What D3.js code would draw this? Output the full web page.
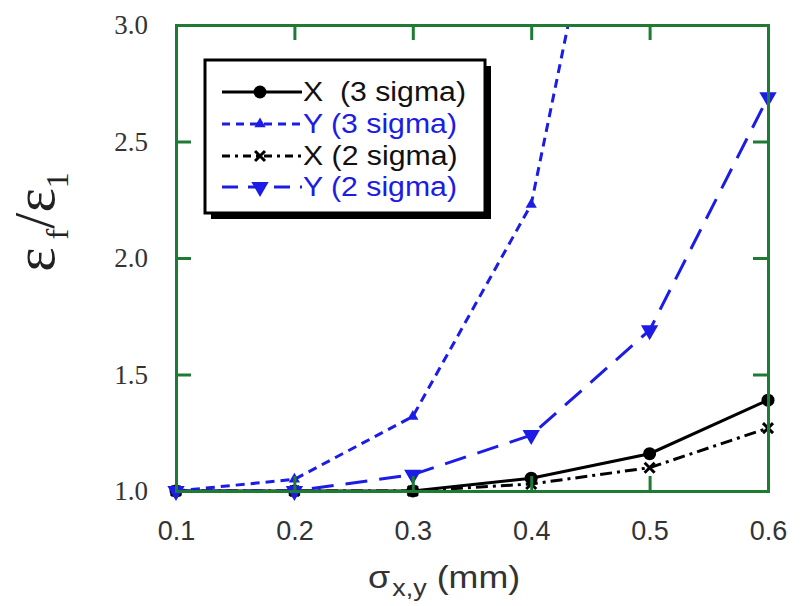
<!DOCTYPE html>
<html>
<head>
<meta charset="utf-8">
<script src="https://cdn.jsdelivr.net/npm/d3@7"></script>
<style>
  body { margin: 0; background: #fff; }
  svg { display: block; }
</style>
</head>
<body>
<div id="chart"></div>
<script>
// sigma values (mm)
var sigmas = [0.1, 0.2, 0.3, 0.4, 0.5, 0.6];
// emittance ratio ef/ei per series
var x3Values = [1.0, 1.0, 1.0, 1.055, 1.16, 1.39];
var y3Values = [1.0, 1.05, 1.32, 2.23, 4.7];
var x2Values = [1.0, 1.0, 1.0, 1.03, 1.10, 1.27];
var y2Values = [1.0, 1.0, 1.07, 1.24, 1.69, 2.69];
var seriesNames = ["X  (3 sigma)", "Y (3 sigma)", "X (2 sigma)", "Y (2 sigma)"];
var xTicks = [0.1, 0.2, 0.3, 0.4, 0.5, 0.6];
var yTicks = [1.0, 1.5, 2.0, 2.5, 3.0];

var width = 802, height = 606;
var margin = { top: 25, right: 34, bottom: 115, left: 176 };
var innerW = width - margin.left - margin.right,
    innerH = height - margin.top - margin.bottom;

var green = "#1e7b34", blue = "#1c1ce6";

var svg = d3.select("#chart").append("svg")
    .attr("width", width)
    .attr("height", height);

var g = svg.append("g")
    .attr("transform", "translate(" + margin.left + "," + margin.top + ")");

var x = d3.scaleLinear().domain([0.1, 0.6]).range([0, innerW]);
var y = d3.scaleLinear().domain([1.0, 3.0]).range([innerH, 0]);

// clip so steep curve leaves at the top
svg.append("defs").append("clipPath").attr("id", "plot-clip")
    .append("rect").attr("x", -10).attr("y", 0)
    .attr("width", innerW + 20).attr("height", innerH + 10);

// series definitions
var series = [
    { name: seriesNames[0], values: x3Values, color: "#000", dash: null, legDash: null, marker: "circle", textColor: "#111" },
    { name: seriesNames[1], values: y3Values, color: blue, dash: "9,6", legDash: "8,6", marker: "triUp", textColor: blue },
    { name: seriesNames[2], values: x2Values, color: "#000", dash: "12,5,3,5", legDash: "8,5,3,5", marker: "cross", textColor: "#111" },
    { name: seriesNames[3], values: y2Values, color: blue, dash: "22,12", legDash: "16,10", marker: "triDown", textColor: blue }
];

var line = d3.line()
    .x(function(d) { return x(d[0]); })
    .y(function(d) { return y(d[1]); });

function drawMarker(sel, type, color) {
    if (type === "circle") {
        sel.append("circle").attr("r", 6.5).attr("fill", color);
    } else if (type === "triUp") {
        sel.append("path").attr("d", d3.symbol().type(d3.symbolTriangle).size(55)).attr("fill", color);
    } else if (type === "triDown") {
        sel.append("path").attr("d", d3.symbol().type(d3.symbolTriangle).size(130))
            .attr("transform", "rotate(180)").attr("fill", color);
    } else if (type === "cross") {
        sel.append("path").attr("d", "M-5,-5L5,5M-5,5L5,-5")
            .attr("stroke", color).attr("stroke-width", 3);
    }
}

var plot = g.append("g").attr("clip-path", "url(#plot-clip)");

series.forEach(function(s) {
    var pts = s.values.map(function(v, i) { return [sigmas[i], v]; });
    plot.append("path")
        .datum(pts)
        .attr("d", line)
        .attr("fill", "none")
        .attr("stroke", s.color)
        .attr("stroke-width", 3)
        .attr("stroke-dasharray", s.dash);
    pts.filter(function(d) { return d[1] <= 3.0; }).forEach(function(d) {
        var m = plot.append("g")
            .attr("transform", "translate(" + x(d[0]) + "," + y(d[1]) + ")");
        drawMarker(m, s.marker, s.color);
    });
});

// frame axes, ticks inside on all four sides
var tickLen = 15;
var axisB = d3.axisBottom(x).tickValues(xTicks).tickSize(-tickLen).tickFormat(d3.format(".1f")).tickPadding(30);
var axisT = d3.axisTop(x).tickValues(xTicks).tickSize(-tickLen).tickFormat("");
var axisL = d3.axisLeft(y).tickValues(yTicks).tickSize(-tickLen).tickFormat(d3.format(".1f")).tickPadding(28);
var axisR = d3.axisRight(y).tickValues(yTicks).tickSize(-tickLen).tickFormat("");

function styleAxis(sel) {
    sel.selectAll("path.domain").attr("stroke", green).attr("stroke-width", 3);
    sel.selectAll(".tick line").attr("stroke", green).attr("stroke-width", 3);
}

var gB = g.append("g").attr("transform", "translate(0," + innerH + ")").call(axisB).call(styleAxis);
gB.selectAll("text").attr("font-family", "Liberation Sans, Arial, sans-serif")
    .attr("font-size", 27).attr("fill", "#333");
var gT = g.append("g").call(axisT).call(styleAxis);
var gL = g.append("g").call(axisL).call(styleAxis);
gL.selectAll("text").attr("font-family", "Liberation Serif, Times New Roman, serif")
    .attr("font-size", 27).attr("fill", "#333");
var gR = g.append("g").attr("transform", "translate(" + innerW + ",0)").call(axisR).call(styleAxis);
// drop the ticks on the axis ends, as in the picture
[gB, gT].forEach(function(a) {
    a.selectAll(".tick line").filter(function(d) { return d === 0.1 || d === 0.6; }).remove();
});
[gL, gR].forEach(function(a) {
    a.selectAll(".tick line").filter(function(d) { return d === 1.0 || d === 3.0; }).remove();
});

// x axis title
var xt = svg.append("text")
    .attr("transform", "translate(368,588) scale(1.12,1)")
    .attr("font-family", "Liberation Sans, Arial, sans-serif")
    .attr("font-size", 32).attr("fill", "#333");
xt.append("tspan").text("σ");
xt.append("tspan").attr("font-size", 24).attr("dy", 8).attr("dx", 2).text("x,y");
xt.append("tspan").attr("dy", -8).text(" (mm)");

// y axis title
var yt = svg.append("text")
    .attr("transform", "translate(54,222) rotate(-90)")
    .attr("text-anchor", "middle")
    .attr("font-family", "Liberation Serif, Times New Roman, serif")
    .attr("font-size", 58).attr("fill", "#222");
yt.append("tspan").text("ε");
yt.append("tspan").attr("font-size", 32).attr("dy", 14).text(" f");
yt.append("tspan").attr("dy", -14).text("/ε");
yt.append("tspan").attr("font-size", 32).attr("dy", 14).text("1");

// legend
var lgX = 205, lgY = 60, lgW = 280, lgH = 153;
svg.append("rect").attr("x", lgX + 6).attr("y", lgY + 6)
    .attr("width", lgW).attr("height", lgH).attr("fill", "#000");
svg.append("rect").attr("x", lgX).attr("y", lgY)
    .attr("width", lgW).attr("height", lgH)
    .attr("fill", "#fff").attr("stroke", "#000").attr("stroke-width", 3);

var rowY = [92, 124, 156, 187];
series.forEach(function(s, i) {
    var row = svg.append("g").attr("transform", "translate(0," + rowY[i] + ")");
    row.append("line").attr("x1", 222).attr("x2", 302).attr("y1", 0).attr("y2", 0)
        .attr("stroke", s.color).attr("stroke-width", 3)
        .attr("stroke-dasharray", s.legDash);
    var m = row.append("g").attr("transform", "translate(260,0)");
    drawMarker(m, s.marker, s.color);
    row.append("text")
        .attr("transform", "translate(303,9) scale(1.12,1)")
        .attr("font-family", "Liberation Sans, Arial, sans-serif")
        .attr("font-size", 27).attr("fill", s.textColor)
        .attr("xml:space", "preserve")
        .style("white-space", "pre")
        .text(s.name);
});
</script>
</body>
</html>
